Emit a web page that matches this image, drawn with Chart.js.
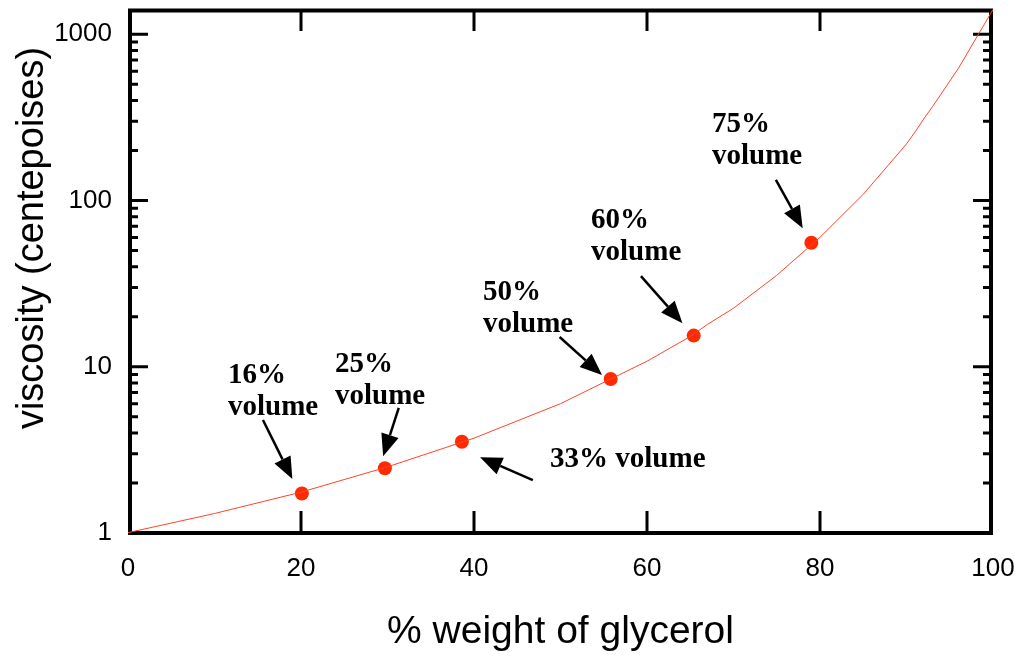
<!DOCTYPE html>
<html>
<head>
<meta charset="utf-8">
<script src="https://cdn.jsdelivr.net/npm/chart.js@4/dist/chart.umd.min.js"></script>
<style>
  html, body { margin: 0; padding: 0; background: #fff; overflow: hidden; }
  canvas { display: block; }
</style>
</head>
<body>
<canvas id="glycerol_chart" width="1019" height="657"></canvas>
<script>
// viscosity curve
const weightPct = [0, 10, 20, 30, 40, 50, 60, 65, 67, 70, 75, 80, 85, 90, 91, 92, 93, 94, 95, 96, 97, 98, 99, 100]
const viscosity = [1.005, 1.31, 1.76, 2.5, 3.72, 6.0, 10.8, 15.2, 18.0, 22.5, 35.5, 60.1, 109, 219, 259, 310, 367, 437, 523, 624, 765, 939, 1150, 1410]

// red dots
const markerPct = [20.1, 29.7, 38.6, 55.8, 65.4, 79.0]
const markerVisc = [1.73, 2.45, 3.54, 8.44, 15.4, 55.7]

// axis ticks
const xTicks = [0, 20, 40, 60, 80, 100]
const yMajor = [1, 10, 100, 1000]
const yMinor = [2, 3, 4, 5, 6, 7, 8, 9, 20, 30, 40, 50, 60, 70, 80, 90, 200, 300, 400, 500, 600, 700, 800, 900]

// annotations, in data units
const noteLines = [['16%', 'volume'], ['25%', 'volume'], ['33% volume'], ['50%', 'volume'], ['60%', 'volume'], ['75%', 'volume']]
const noteX = [11.56, 23.93, 48.79, 41.04, 53.53, 67.51]
const noteY = [7.98, 9.29, 2.49, 25.2, 68.2, 258]
const arrowFromX = [15.6, 31.3, 46.8, 49.9, 59.3, 74.9]
const arrowFromY = [4.78, 5.65, 2.08, 15.1, 35.1, 133]
const arrowToX = [19.0, 29.5, 40.7, 54.8, 64.1, 78.0]
const arrowToY = [2.11, 2.90, 2.86, 8.92, 18.3, 68.2]

const frame_and_ticks = {
    id: 'frame_and_ticks',
    beforeDatasetsDraw(chart) {
        const {ctx, chartArea: a, scales: {x, y}} = chart
        ctx.save()
        ctx.strokeStyle = '#000'
        ctx.lineWidth = 3
        ctx.beginPath()
        yMajor.concat(yMinor).forEach(v => {
            const py = y.getPixelForValue(v)
            const len = yMajor.includes(v) ? 20 : 10
            ctx.moveTo(a.left, py); ctx.lineTo(a.left + len, py)
            ctx.moveTo(a.right, py); ctx.lineTo(a.right - len, py)
        })
        xTicks.slice(1, -1).forEach(v => {
            const px = x.getPixelForValue(v)
            ctx.moveTo(px, a.bottom); ctx.lineTo(px, a.bottom - 22)
            ctx.moveTo(px, a.top); ctx.lineTo(px, a.top + 22)
        })
        ctx.stroke()
        ctx.lineWidth = 4
        ctx.strokeRect(a.left + 2, a.top + 1.5, a.right - a.left - 4, a.bottom - a.top - 1.5)

        // y title
        ctx.fillStyle = '#000'
        ctx.font = '38px "Liberation Sans", Arial, sans-serif'
        ctx.textAlign = 'center'
        ctx.textBaseline = 'alphabetic'
        ctx.translate(43, 238)
        ctx.rotate(-Math.PI / 2)
        ctx.fillText('viscosity (centepoises)', 0, 0)
        ctx.restore()
    },
    afterDatasetsDraw(chart) {
        const {ctx, scales: {x, y}} = chart
        ctx.save()
        ctx.fillStyle = '#000'
        ctx.strokeStyle = '#000'
        ctx.font = 'bold 29px "Liberation Serif", "Times New Roman", serif'
        ctx.textAlign = 'left'
        ctx.textBaseline = 'alphabetic'
        noteLines.forEach((lines, i) => {
            const px = x.getPixelForValue(noteX[i])
            const py = y.getPixelForValue(noteY[i])
            lines.forEach((t, k) => ctx.fillText(t, px, py + k * 32))
        })
        ctx.lineWidth = 2.5
        arrowFromX.forEach((_, i) => {
            const x1 = x.getPixelForValue(arrowFromX[i]), y1 = y.getPixelForValue(arrowFromY[i])
            const x2 = x.getPixelForValue(arrowToX[i]), y2 = y.getPixelForValue(arrowToY[i])
            const ang = Math.atan2(y2 - y1, x2 - x1)
            const head = 22, half = 9
            const bx = x2 - head * Math.cos(ang), by = y2 - head * Math.sin(ang)
            ctx.beginPath()
            ctx.moveTo(x1, y1); ctx.lineTo(bx, by)
            ctx.stroke()
            ctx.beginPath()
            ctx.moveTo(x2, y2)
            ctx.lineTo(bx + half * Math.sin(ang), by - half * Math.cos(ang))
            ctx.lineTo(bx - half * Math.sin(ang), by + half * Math.cos(ang))
            ctx.closePath()
            ctx.fill()
        })
        ctx.restore()
    }
}

new Chart(document.getElementById('glycerol_chart'), {
    type: 'scatter',
    data: {
        datasets: [{
            data: weightPct.map((w, i) => ({x: w, y: viscosity[i]})),
            showLine: true,
            borderColor: '#ff4428',
            borderWidth: 1,
            pointRadius: 0,
            tension: 0
        }, {
            data: markerPct.map((w, i) => ({x: w, y: markerVisc[i]})),
            pointRadius: 7,
            pointBackgroundColor: '#ff2a00',
            pointBorderWidth: 0
        }]
    },
    options: {
        responsive: false,
        animation: false,
        events: [],
        layout: {padding: {top: 9, right: 26, left: 0, bottom: 0}},
        plugins: {legend: {display: false}, tooltip: {enabled: false}},
        scales: {
            x: {
                type: 'linear',
                min: 0,
                max: 100,
                afterBuildTicks: s => { s.ticks = xTicks.map(v => ({value: v})) },
                afterFit: s => { s.height = 124; s.paddingLeft = 0; s.paddingRight = 0 },
                ticks: {
                    color: '#000',
                    font: {family: '"Liberation Sans", Arial, sans-serif', size: 26},
                    padding: 12,
                    maxRotation: 0,
                    autoSkip: false
                },
                grid: {display: false},
                border: {display: false},
                title: {
                    display: true,
                    text: '% weight of glycerol',
                    color: '#000',
                    font: {family: '"Liberation Sans", Arial, sans-serif', size: 39, lineHeight: 1},
                    padding: {top: 0, bottom: 5}
                }
            },
            y: {
                type: 'logarithmic',
                min: 1,
                max: 1420,
                afterBuildTicks: s => { s.ticks = yMajor.concat(yMinor).sort((a, b) => a - b).map(v => ({value: v})) },
                afterFit: s => { s.width = 128; s.paddingTop = 0; s.paddingBottom = 0 },
                ticks: {
                    color: '#000',
                    font: {family: '"Liberation Sans", Arial, sans-serif', size: 26},
                    padding: 8,
                    autoSkip: false,
                    callback: v => yMajor.includes(v) ? String(v) : ''
                },
                grid: {display: false},
                border: {display: false}
            }
        }
    },
    plugins: [frame_and_ticks]
})
</script>
</body>
</html>
